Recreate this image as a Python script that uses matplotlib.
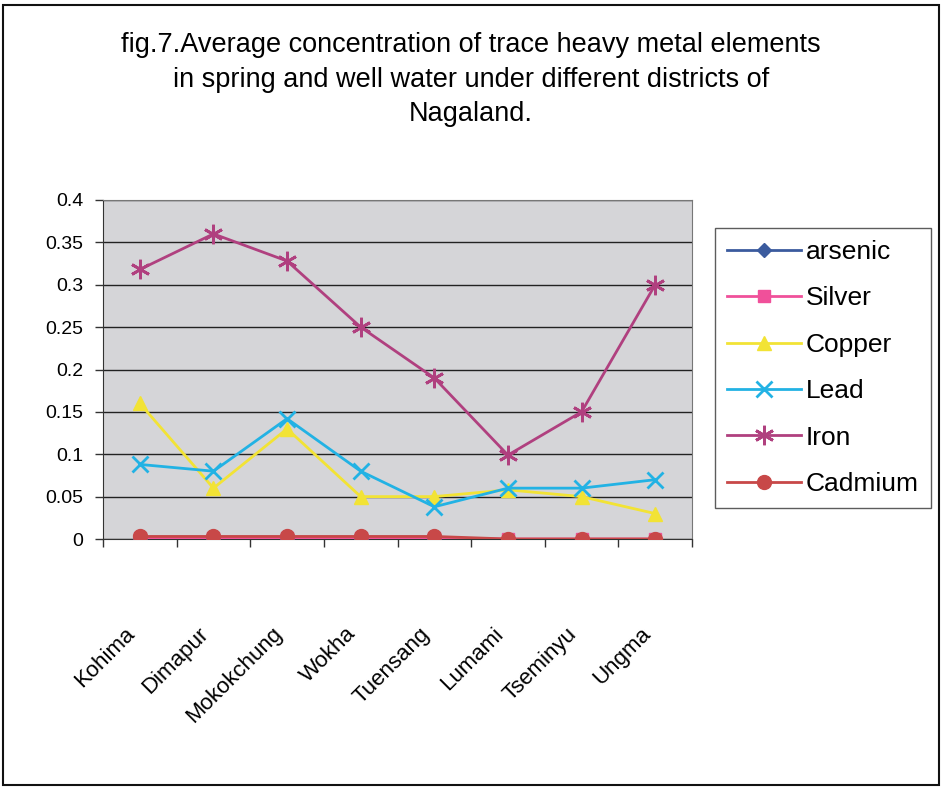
import matplotlib
matplotlib.use("Agg")
import matplotlib.pyplot as plt
from matplotlib.patches import Rectangle
from matplotlib.transforms import ScaledTranslation

districts = ["Kohima", "Dimapur", "Mokokchung", "Wokha", "Tuensang",
             "Lumami", "Tseminyu", "Ungma"]
arsenic = [0.0, 0.0, 0.0, 0.0, 0.0, 0.0, 0.0, 0.0]
silver = [0.001, 0.001, 0.001, 0.001, 0.001, 0.0, 0.0, 0.0]
copper = [0.16, 0.06, 0.13, 0.05, 0.05, 0.058, 0.05, 0.03]
lead = [0.088, 0.08, 0.142, 0.08, 0.038, 0.06, 0.06, 0.07]
iron = [0.318, 0.36, 0.328, 0.25, 0.19, 0.099, 0.15, 0.30]
cadmium = [0.003, 0.003, 0.003, 0.003, 0.003, 0.0, 0.0, 0.0]
yticks = [0, 0.05, 0.1, 0.15, 0.2, 0.25, 0.3, 0.35, 0.4]
ytick_labels = ["0", "0.05", "0.1", "0.15", "0.2", "0.25", "0.3", "0.35", "0.4"]

plt.rcParams["font.family"] = ["Liberation Sans", "DejaVu Sans"]

fig = plt.figure(figsize=(9.42, 7.87), dpi=100)
ax = fig.add_axes([103 / 942, 1 - 539 / 787, 589 / 942, 339 / 787])
ax.set_facecolor("#d5d5d8")

x = list(range(len(districts)))
series = [
    ("arsenic", arsenic, "#3b5b9e", dict(marker="D", markersize=7)),
    ("Silver", silver, "#f0509a", dict(marker="s", markersize=8)),
    ("Copper", copper, "#f2e335", dict(marker="^", markersize=10)),
    ("Lead", lead, "#22b2e4", dict(marker="x", markersize=12, markeredgewidth=2)),
    ("Iron", iron, "#b0407f", dict(marker=(6, 2, 0), markersize=14, markeredgewidth=2)),
    ("Cadmium", cadmium, "#c84848", dict(marker="o", markersize=10)),
]
handles = []
for label, vals, color, mk in series:
    h, = ax.plot(x, vals, color=color, lw=2, label=label,
                 markerfacecolor=color, markeredgecolor=color, zorder=3, **mk)
    handles.append(h)

ax.set_xlim(-0.5, len(districts) - 0.5)
ax.set_ylim(0, 0.4)
ax.set_yticks(yticks)
ax.set_yticklabels(ytick_labels, fontsize=14)
ax.yaxis.grid(True, color="#222222", lw=1)
ax.set_axisbelow(True)
ax.tick_params(axis="y", length=6, width=1, pad=8, color="#333333")

ax.set_xticks(x)
ax.set_xticks([i - 0.5 for i in range(len(districts) + 1)], minor=True)
ax.tick_params(axis="x", which="major", length=0, pad=66)
ax.tick_params(axis="x", which="minor", length=6, width=1, color="#333333")
ax.set_xticklabels(districts, rotation=45, ha="right", va="center",
                   rotation_mode="anchor", fontsize=16)
shift = ScaledTranslation(-8 / 100, 0, fig.dpi_scale_trans)
for lbl in ax.get_xticklabels():
    lbl.set_transform(lbl.get_transform() + shift)

for side in ["top", "right"]:
    ax.spines[side].set_color("#777777")
ax.spines["left"].set_color("#333333")
ax.spines["bottom"].set_color("#333333")

title_lines = ["fig.7.Average concentration of trace heavy metal elements",
               "in spring and well water under different districts of",
               "Nagaland."]
for line, ypix in zip(title_lines, [45, 80, 114]):
    fig.text(0.5, 1 - ypix / 787, line, ha="center", va="center", fontsize=19.5)

leg = fig.legend(handles=handles, loc="upper left",
                 bbox_to_anchor=(715 / 942, 1 - 228 / 787), fontsize=19,
                 frameon=True, fancybox=False, edgecolor="#333333",
                 handlelength=2.8, handletextpad=0.2, labelspacing=0.85,
                 borderpad=0.45, borderaxespad=0)
leg.get_frame().set_linewidth(1)

fig.patches.append(Rectangle((3 / 942, 2 / 787), 936 / 942, 780 / 787,
                             transform=fig.transFigure, fill=False,
                             edgecolor="#111111", lw=1.5))

fig.savefig("out.png", dpi=100)
